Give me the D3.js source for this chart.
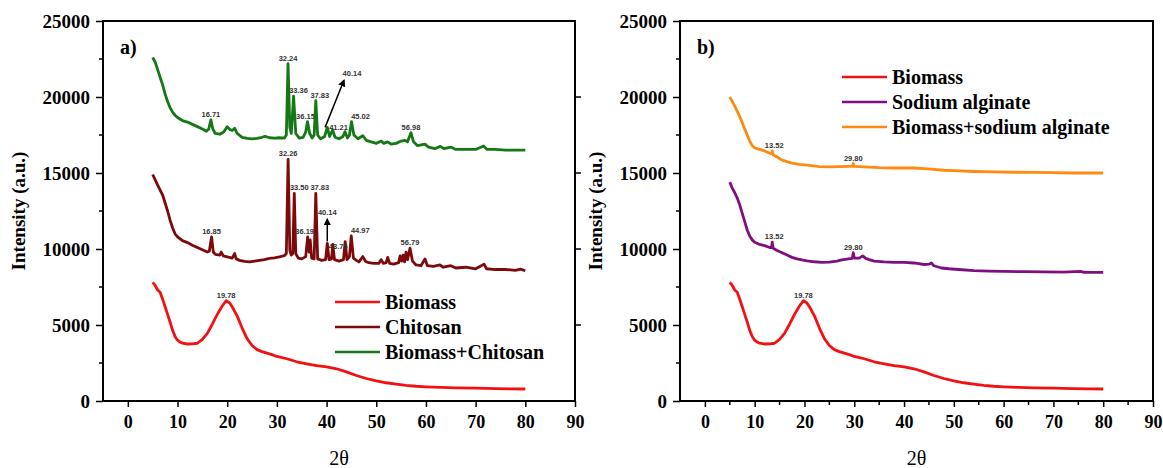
<html>
<head>
<script src="https://d3js.org/d3.v7.min.js"></script>
<style>
  body { margin: 0; background: #fff; }
</style>
</head>
<body>
<svg id="chart" width="1163" height="468"></svg>
<script>
// XRD patterns, [2theta, intensity]
var biomass = [[5,7800],[5.5,7600],[6,7300],[6.5,7150],[7,6700],[7.5,6200],[8,5700],[8.5,5200],[9,4650],[9.5,4250],[10,4000],[10.5,3880],[11,3800],[12,3750],[13,3760],[14,3800],[15,4050],[16,4450],[17,5050],[18,5700],[19,6250],[19.8,6600],[20.5,6450],[21,6200],[22,5600],[23,4800],[24,4100],[25,3650],[26,3380],[27,3250],[28,3150],[29,3050],[30,2930],[32,2780],[34,2580],[36,2450],[38,2330],[40,2250],[42,2120],[44,1920],[46,1680],[48,1480],[50,1330],[52,1200],[54,1110],[56,1030],[58,970],[60,930],[63,890],[66,870],[70,850],[74,820],[77,800],[80,790]]

var chitosan = [[5,14900],[6,14200],[7,13550],[8,12500],[8.5,11900],[9,11400],[9.5,11000],[10,10800],[11,10550],[12,10420],[13,10250],[14,10100],[15,9950],[16,9800],[16.4,9850],[16.85,10800],[17.2,9800],[17.6,9650],[18.5,9600],[18.8,9800],[19.2,9550],[20,9480],[21,9400],[21.5,9700],[21.8,9350],[22.5,9250],[23.5,9180],[24.5,9150],[25.5,9200],[26.5,9250],[27.5,9300],[28.5,9380],[29.5,9420],[30.5,9480],[31.5,9560],[31.9,9700],[32.26,15900],[32.6,9900],[32.9,9600],[33.2,9700],[33.5,13660],[33.8,9700],[34.3,9400],[35,9350],[35.8,9500],[36.19,10800],[36.5,9800],[36.7,10600],[37,9400],[37.5,9350],[37.83,13660],[38.2,9350],[39,9250],[39.8,9300],[40.14,10370],[40.5,9300],[41,9350],[41.25,10300],[41.6,9300],[42.5,9200],[43.4,9300],[43.75,10480],[44.1,9300],[44.6,9500],[44.97,10860],[45.4,9400],[46,9250],[46.5,9150],[47.3,9500],[47.8,9200],[48.5,9100],[49.5,9050],[50.5,9050],[51,9300],[51.4,9050],[52,9100],[52.3,9450],[52.7,9050],[53.5,9000],[54.5,9100],[54.8,9550],[55.1,9200],[55.4,9600],[55.7,9150],[56,9800],[56.3,9300],[56.79,10050],[57.3,9200],[58,8950],[59,8900],[59.8,9350],[60.3,8900],[61.5,8850],[62.8,8950],[63.5,8800],[65,8900],[66,8750],[68,8800],[70,8700],[71.7,9000],[72.2,8700],[74,8650],[76,8650],[78,8600],[79,8680],[80,8570]]

var biomassChitosan = [[5,22600],[5.5,22300],[6,21800],[6.5,21300],[7,20800],[7.5,20200],[8,19700],[8.5,19300],[9,19000],[9.5,18800],[10,18650],[11,18450],[12,18350],[13,18200],[14,18050],[15,17900],[15.8,17750],[16.3,17900],[16.71,18500],[17.1,17900],[17.6,17600],[18.5,17550],[19.3,17700],[20,18050],[20.6,17850],[21,17800],[21.5,17950],[22,17600],[23,17350],[24,17280],[25,17250],[26,17280],[27,17350],[27.6,17420],[28.5,17320],[29.5,17300],[30.5,17320],[31.5,17300],[31.9,17500],[32.24,22200],[32.6,18000],[32.9,17600],[33.36,20050],[33.8,17600],[34.5,17300],[35.3,17350],[35.8,17700],[36.15,18380],[36.6,17600],[37.1,17300],[37.5,17500],[37.83,19760],[38.2,17500],[38.8,17250],[39.6,17400],[40.14,18000],[40.6,17400],[41.21,17830],[41.7,17350],[42.5,17250],[43.3,17400],[43.7,17720],[44.2,17300],[44.6,17500],[45.02,18380],[45.5,17500],[46.3,17250],[47.3,17450],[48,17150],[49,17050],[50,16950],[51,17100],[51.5,16950],[52.3,17050],[53,16900],[54,16950],[55,17100],[55.8,17150],[56.3,17050],[56.98,17650],[57.5,17050],[58.3,16800],[59.8,16900],[60.5,16700],[61.8,16600],[62.9,16750],[63.6,16600],[65.1,16700],[66,16550],[68.4,16550],[70,16550],[71.6,16780],[72.3,16550],[74,16550],[76,16500],[78,16500],[80,16500]]

var alginate = [[5,14400],[5.5,14000],[6,13700],[6.5,13350],[7,12900],[7.5,12350],[8,11800],[8.5,11250],[9,10850],[9.5,10600],[10,10450],[11,10300],[12,10220],[13,10100],[13.4,10100],[13.52,10450],[13.7,10050],[14.5,9900],[15.5,9750],[16.5,9600],[17.5,9450],[18.5,9350],[19.5,9280],[20.5,9220],[22,9160],[23.5,9120],[25,9130],[26.5,9200],[27.5,9280],[28.5,9330],[29.6,9380],[29.8,9760],[30,9400],[31,9400],[31.7,9550],[32.3,9380],[33,9300],[34,9200],[36,9150],[38,9120],[40,9120],[42,9080],[44,8980],[45,9000],[45.5,9080],[46,8900],[47.5,8750],[49,8700],[51,8650],[54,8580],[57,8550],[60,8530],[64,8510],[68,8500],[72,8480],[75.5,8530],[76,8470],[78,8460],[80,8460]]

var biomassAlginate = [[5,20000],[5.5,19700],[6,19400],[6.5,19050],[7,18700],[7.5,18300],[8,17900],[8.5,17500],[9,17100],[9.5,16800],[10,16650],[11,16550],[12,16450],[13,16300],[13.4,16280],[13.52,16450],[13.7,16200],[14.5,16050],[15.5,15850],[16.5,15750],[17.5,15650],[19,15570],[21,15500],[23,15420],[25,15400],[27,15420],[29,15430],[29.7,15430],[29.8,15620],[30,15430],[32,15400],[35,15350],[38,15330],[40,15340],[42,15330],[44,15290],[46,15240],[48,15180],[50,15150],[54,15100],[58,15070],[62,15050],[66,15040],[70,15020],[74,15000],[78,15000],[80,15000]]

// labelled peaks: [text, 2theta, intensity]
var peaksBiomass = [["19.78", 19.78, 6600]]
var peaksChitosan = [["16.85",16.85,10800],["32.26",32.26,15900],["33.50",33.5,13660],["36.19",36.19,10800],["37.83",37.83,13660],["43.75",43.75,10480],["44.97",44.97,10860],["56.79",56.79,10050]]
var peaksBiomassChitosan = [["16.71",16.71,18500],["32.24",32.24,22200],["33.36",33.36,20050],["36.15",36.15,18380],["37.83",37.83,19760],["41.21",41.21,17830],["45.02",45.02,18380],["56.98",56.98,17650]]
var peaksAlginate = [["13.52",13.52,10450],["29.80",29.8,9760]]
var peaksBiomassAlginate = [["13.52",13.52,16450],["29.80",29.8,15620]]

var xTicks = [0,10,20,30,40,50,60,70,80,90]
var yTicks = [0,5000,10000,15000,20000,25000]

var serif = "'Liberation Serif', 'Times New Roman', serif"
var sans = "'Liberation Sans', Arial, sans-serif"

var svg = d3.select("#chart").attr("font-family", serif)

svg.append("defs").append("marker")
    .attr("id", "head")
    .attr("viewBox", "0 0 10 10")
    .attr("refX", 8).attr("refY", 5)
    .attr("markerWidth", 5).attr("markerHeight", 5)
    .attr("orient", "auto")
  .append("path").attr("d", "M0,0L10,5L0,10z").attr("fill", "#000")

// small offsets so labels sit like in the figure
var nudge = {"33.36":[5,0],"36.15":[-2,0],"37.83":[4,0],"41.21":[6,3],"45.02":[9,0],
             "33.50":[5,0],"36.19":[-3,0],"43.75":[-7,10],"44.97":[9,0],"13.52":[2,0]}

function peakText(sel) {
    return sel.attr("font-family", sans).attr("font-size", 7.5)
        .attr("font-weight", "bold").attr("fill", "#333").attr("text-anchor", "middle")
}

function panel(left, right, tag, series, legendX, legendY, minorX, rightTicks) {
    var x = d3.scaleLinear().domain([-5, 90]).range([left, right])
    var y = d3.scaleLinear().domain([0, 25000]).range([401, 21])
    var g = svg.append("g")

    var line = d3.line().x(d => x(d[0])).y(d => y(d[1]))

    // minor ticks
    g.selectAll(".my").data(d3.range(2500, 25000, 5000)).join("line")
        .attr("x1", left - 4).attr("x2", left)
        .attr("y1", d => y(d)).attr("y2", d => y(d))
        .attr("stroke", "#000").attr("stroke-width", 1.5)
    if (minorX) {
        g.selectAll(".mx").data(d3.range(5, 90, 10)).join("line")
            .attr("x1", d => x(d)).attr("x2", d => x(d))
            .attr("y1", 401).attr("y2", 405)
            .attr("stroke", "#000").attr("stroke-width", 1.5)
    }
    if (rightTicks) {
        g.selectAll(".ry").data(yTicks.slice(1, 5)).join("line")
            .attr("x1", right).attr("x2", right + 6)
            .attr("y1", d => y(d)).attr("y2", d => y(d))
            .attr("stroke", "#000").attr("stroke-width", 1.5)
    }

    var xa = g.append("g").attr("transform", "translate(0,401)")
        .call(d3.axisBottom(x).tickValues(xTicks).tickSize(6).tickSizeOuter(0).tickPadding(8))
    var ya = g.append("g").attr("transform", "translate(" + left + ",0)")
        .call(d3.axisLeft(y).tickValues(yTicks).tickSize(7).tickSizeOuter(0).tickPadding(6).tickFormat(d3.format("d")))
    ;[xa, ya].forEach(a => {
        a.attr("font-family", serif).attr("font-weight", "bold")
        a.select(".domain").remove()
        a.selectAll(".tick line").attr("stroke-width", 1.5)
        a.selectAll(".tick text").attr("fill", "#000")
    })
    xa.attr("font-size", 18)
    ya.attr("font-size", 19)
    ya.selectAll(".tick text").attr("dy", "0.36em")

    g.append("rect")
        .attr("x", left).attr("y", 21)
        .attr("width", right - left).attr("height", 380)
        .attr("fill", "none").attr("stroke", "#000").attr("stroke-width", 2)

    series.forEach(s => {
        g.append("path").datum(s.data)
            .attr("d", line)
            .attr("fill", "none")
            .attr("stroke", s.color)
            .attr("stroke-width", 2.8)
            .attr("stroke-linejoin", "round")
        g.selectAll(null).data(s.peaks).join("text")
            .call(peakText)
            .attr("x", d => x(d[1]) + (nudge[d[0]] ? nudge[d[0]][0] : 0))
            .attr("y", d => y(d[2]) - 3 + (nudge[d[0]] ? nudge[d[0]][1] : 0))
            .text(d => d[0])
        if (s.arrow) {
            var a = s.arrow
            g.append("line")
                .attr("x1", x(a.from[0])).attr("y1", y(a.from[1]))
                .attr("x2", x(a.to[0])).attr("y2", y(a.to[1]))
                .attr("stroke", "#000").attr("stroke-width", 1.5)
                .attr("marker-end", "url(#head)")
            g.append("text").call(peakText)
                .attr("x", x(a.to[0]) + a.dx).attr("y", y(a.to[1]) - 4)
                .text(a.text)
        }
    })

    // legend
    series.forEach((s, i) => {
        var ly = legendY + i * 25
        g.append("line")
            .attr("x1", legendX).attr("x2", legendX + 45)
            .attr("y1", ly).attr("y2", ly)
            .attr("stroke", s.color).attr("stroke-width", 2.5)
        g.append("text")
            .attr("x", legendX + 50).attr("y", ly + 7)
            .attr("font-size", 20).attr("font-weight", "bold")
            .text(s.name)
    })

    g.append("text")
        .attr("x", left + 17).attr("y", 54)
        .attr("font-size", 20).attr("font-weight", "bold")
        .text(tag)

    g.append("text")
        .attr("x", (left + right) / 2).attr("y", 465)
        .attr("text-anchor", "middle").attr("font-size", 20)
        .text("2θ")

    g.append("text")
        .attr("transform", "translate(" + (left - 78) + ",211) rotate(-90)")
        .attr("text-anchor", "middle").attr("font-size", 19).attr("font-weight", "bold")
        .text("Intensity (a.u.)")
}

panel(103, 575, "a)", [
    {name: "Biomass", color: "#f21010", data: biomass, peaks: peaksBiomass},
    {name: "Chitosan", color: "#7d0a0a", data: chitosan, peaks: peaksChitosan,
        arrow: {text: "40.14", from: [40.14, 10500], to: [40.14, 11950], dx: 0}},
    {name: "Biomass+Chitosan", color: "#147814", data: biomassChitosan, peaks: peaksBiomassChitosan,
        arrow: {text: "40.14", from: [39.7, 18000], to: [43.5, 21100], dx: 8}}
], 335, 302, false, true)

panel(680, 1153, "b)", [
    {name: "Biomass", color: "#f21010", data: biomass, peaks: peaksBiomass},
    {name: "Sodium alginate", color: "#7f0f7f", data: alginate, peaks: peaksAlginate},
    {name: "Biomass+sodium alginate", color: "#ff8a10", data: biomassAlginate, peaks: peaksBiomassAlginate}
], 842, 77, true, false)
</script>
</body>
</html>
